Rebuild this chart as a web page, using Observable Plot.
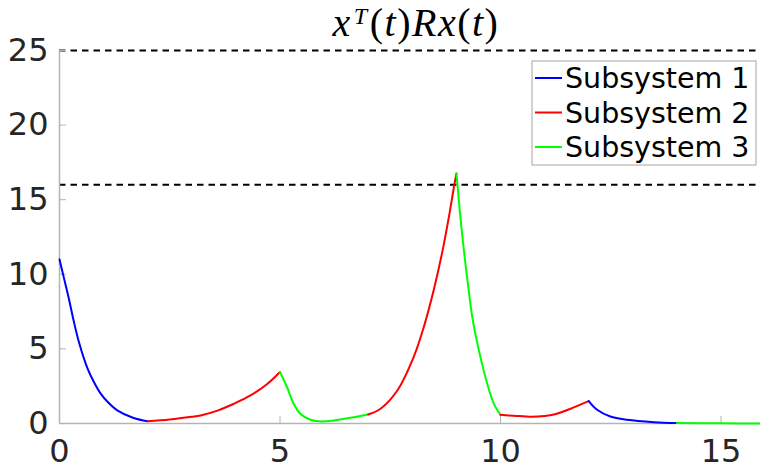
<!DOCTYPE html>
<html>
<head>
<meta charset="utf-8">
<script src="https://cdn.jsdelivr.net/npm/d3@7"></script>
<script src="https://cdn.jsdelivr.net/npm/@observablehq/plot@0.6"></script>
<style>
  html, body { margin: 0; padding: 0; background: #fff; }
  #chart { width: 760px; height: 471px; overflow: hidden; }
</style>
</head>
<body>
<div id="chart"></div>
<script>
// Weighted state norm x(t)^T R x(t) along the switching trajectory.
// Each segment is one interval during which a single subsystem is active.
const seg1 = [[0, 11.0], [0.1, 9.76], [0.21, 8.4], [0.32, 6.9], [0.44, 5.46], [0.63, 3.73], [0.78, 2.78], [0.93, 2.02], [1.1, 1.42], [1.31, 0.88], [1.68, 0.37], [2.0, 0.155]];
const seg2 = [[2.0, 0.155], [2.5, 0.27], [3.0, 0.45], [3.2, 0.54], [3.6, 0.88], [3.95, 1.32], [4.33, 1.88], [4.71, 2.65], [5.0, 3.45]];
const seg3 = [[5.0, 3.45], [5.16, 2.43], [5.31, 1.32], [5.46, 0.65], [5.69, 0.25], [5.96, 0.13], [6.22, 0.2], [6.6, 0.38], [7.0, 0.6]];
const seg4 = [[7.0, 0.6], [7.28, 0.99], [7.66, 2.21], [8.03, 4.45], [8.26, 6.46], [8.49, 9.0], [8.68, 11.5], [8.83, 13.85], [8.95, 15.95], [9.0, 16.75]];
const seg5 = [[9.0, 16.75], [9.03, 15.8], [9.09, 13.85], [9.17, 11.6], [9.26, 9.38], [9.36, 7.13], [9.51, 4.9], [9.7, 2.66], [9.85, 1.32], [10.0, 0.58]];
const seg6 = [[10.0, 0.58], [10.3, 0.52], [10.7, 0.45], [11.0, 0.5], [11.21, 0.6], [11.59, 0.99], [11.85, 1.32], [12.0, 1.5]];
const seg7 = [[12.0, 1.5], [12.19, 0.92], [12.49, 0.47], [12.87, 0.25], [13.48, 0.09], [14.0, 0.03]];
const seg8 = [[14.0, 0.03], [15.0, 0.01], [16.0, 0.0]];

const segments = [seg1, seg2, seg3, seg4, seg5, seg6, seg7, seg8];
const segmentMode = [1, 2, 3, 2, 3, 2, 1, 3];

const seriesNames = ["Subsystem 1", "Subsystem 2", "Subsystem 3"];
const seriesColors = ["#0000ff", "#ff0000", "#00ff00"];

const boundLevels = [25, 16];
const xTicks = [0, 5, 10, 15];
const yTicks = [0, 5, 10, 15, 20, 25];

// long table: one row per sample, tagged with its segment and subsystem
const rows = segments.flatMap((s, i) =>
  s.map(([t, v]) => ({t, v, seg: i, mode: seriesNames[segmentMode[i] - 1]}))
);

const axisGray = "#b4b4b4";
const labelInk = "#262626";

const chart = Plot.plot({
  width: 760,
  height: 471,
  marginTop: 50,
  marginBottom: 48,
  marginLeft: 59,
  marginRight: 0,
  style: {fontFamily: "DejaVu Sans", background: "#fff", overflow: "hidden"},
  x: {domain: [0, 16], range: [59, 764.6]},
  y: {domain: [0, 25], range: [423, 50]},
  color: {domain: seriesNames, range: seriesColors},
  marks: [
    Plot.ruleY(boundLevels, {stroke: "#000", strokeWidth: 2, strokeDasharray: "6.5,5"}),
    Plot.ruleX([0], {stroke: axisGray, strokeWidth: 1.5}),
    Plot.ruleY([0], {stroke: axisGray, strokeWidth: 1.5}),
    Plot.axisY({ticks: yTicks, tickSize: -7, tickPadding: 18, fontSize: 32, stroke: axisGray, fill: labelInk, label: null}),
    Plot.axisX({ticks: xTicks, tickSize: -7, tickPadding: 22.6, fontSize: 32, stroke: axisGray, fill: labelInk, label: null}),
    Plot.line(rows, {x: "t", y: "v", z: "seg", stroke: "mode", strokeWidth: 2, curve: "catmull-rom"})
  ]
});

document.getElementById("chart").appendChild(chart);

const svg = d3.select(chart);

// title with LaTeX-like math typesetting
const title = svg.append("text")
  .attr("x", 416)
  .attr("y", 36)
  .attr("text-anchor", "middle")
  .attr("font-family", "Liberation Serif")
  .attr("font-size", 40)
  .attr("letter-spacing", 1.5)
  .attr("fill", "#000");
title.append("tspan").attr("font-style", "italic").text("x");
title.append("tspan").attr("font-style", "italic").attr("font-size", 24).attr("dy", -12).attr("dx", 2).text("T");
title.append("tspan").attr("dy", 12).attr("dx", 1).text("(");
title.append("tspan").attr("font-style", "italic").text("t");
title.append("tspan").text(")");
title.append("tspan").attr("font-style", "italic").text("Rx");
title.append("tspan").text("(");
title.append("tspan").attr("font-style", "italic").text("t");
title.append("tspan").text(")");

// legend box in the upper right of the axes
const legend = svg.append("g").attr("transform", "translate(532,61)");
legend.append("rect")
  .attr("width", 224).attr("height", 104)
  .attr("fill", "#fff").attr("stroke", "#a6a6a6").attr("stroke-width", 1);
seriesNames.forEach((name, i) => {
  const cy = 17 + i * 34.5;
  legend.append("line")
    .attr("x1", 3).attr("x2", 30).attr("y1", cy).attr("y2", cy)
    .attr("stroke", seriesColors[i]).attr("stroke-width", 2);
  legend.append("text")
    .attr("x", 33).attr("y", cy)
    .attr("dy", "0.36em")
    .attr("text-anchor", "start")
    .attr("font-family", "DejaVu Sans")
    .attr("font-size", 28.5)
    .attr("fill", "#000")
    .text(name);
});
</script>
</body>
</html>
